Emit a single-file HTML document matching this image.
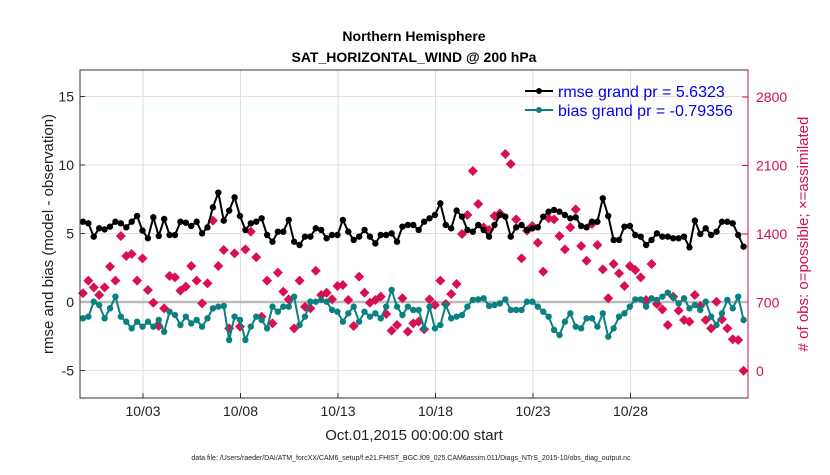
<!DOCTYPE html>
<html><head><meta charset="utf-8"><style>
body{margin:0;background:#fff}
svg{font-family:"Liberation Sans",sans-serif}
</style></head><body>
<svg id="c" width="830" height="470"></svg>
<script>
const rmseZ=[245,250,290,265,268,260,245,250,262,245,228,272,295,232,288,237,285,285,245,248,258,245,280,262,202,158,242,212,172,228,270,250,245,235,285,305,275,275,240,305,315,290,290,265,270,295,285,285,240,275,300,290,270,290,310,285,285,280,305,260,255,255,270,
245,235,225,190,255,265,212,230,270,275,255,270,290,255,225,230,290,262,255,270,265,262,230,215,210,215,225,235,232,258,262,245,245,175,228,300,300,260,258,285,290,315,300,280,290,290,295,295,290,322,242,282,265,285,275,245,245,250,285,320];
const biasZ=[535,530,485,495,535,505,470,530,545,565,545,560,545,560,540,575,515,525,555,530,550,540,560,535,505,500,498,600,530,540,600,560,530,540,565,500,515,500,500,470,555,530,485,485,480,485,510,515,545,520,500,545,515,530,520,535,500,450,500,525,500,510,510,
565,500,565,555,495,535,530,525,500,480,478,475,498,495,490,478,510,510,510,485,485,500,515,530,570,585,545,520,560,565,535,535,560,520,590,565,530,520,500,478,478,500,475,480,470,458,472,490,475,505,495,510,485,530,555,520,480,505,470,540];
const obsZ=[460,422,442,465,442,380,422,288,348,342,422,355,450,488,558,505,408,412,452,440,378,422,490,430,242,378,330,565,340,560,328,275,352,530,422,550,398,455,478,565,422,500,505,392,465,458,478,438,435,480,558,410,458,488,480,470,522,572,555,475,575,550,545,
568,478,495,422,492,462,432,282,225,93,192,262,270,228,220,42,72,238,355,272,258,308,395,235,238,288,328,262,208,318,362,252,315,388,475,372,400,438,378,390,412,480,372,492,508,555,470,512,540,545,465,498,540,565,485,538,565,598,600,692];
// convert read zoom-pixels to data values
const rmse=rmseZ.map(y=>+((162-y/3)/13.7).toFixed(2));
const bias=biasZ.map(y=>+((162-y/3)/13.7).toFixed(2));
const obs=obsZ.map(y=>Math.round((371-(140+y/3))/0.09786));
const leftTicks=[-5,0,5,10,15];
const rightTicks=[0,700,1400,2100,2800];
const xTickDays=[3,8,13,18,23,28];
const xTickLabels=["10/03","10/08","10/13","10/18","10/23","10/28"];

const L=80,R=748,T=70,B=398;
const xs=d=>104+(d-1)*19.5;
const yl=v=>302-13.7*v;
const yr=v=>371-v*0.09786;
const d0=-0.08,d1=33.8;
const tOf=(i,n)=>d0+(d1-d0)*i/(n-1);
const NS="http://www.w3.org/2000/svg";
const svg=document.getElementById('c');
function el(tag,at,txt){const e=document.createElementNS(NS,tag);for(const k in at)e.setAttribute(k,at[k]);if(txt!=null)e.textContent=txt;svg.appendChild(e);return e;}

let e=el('rect',{x:L,y:T,width:R-L,height:B-T,fill:'#fff',stroke:'none'});

xTickDays.forEach((d,i)=>{
 let g=el('line',{x1:xs(d),x2:xs(d),y1:T,y2:B,stroke:'#ddd','stroke-width':1});
 
 let t=el('text',{x:xs(d),y:416,'text-anchor':'middle','font-size':14,fill:'#222'},xTickLabels[i]);
 
 el('line',{x1:xs(d),x2:xs(d),y1:B,y2:B-5,stroke:'#333'});
});
leftTicks.forEach(v=>{
 let g=el('line',{x1:L,x2:R,y1:yl(v),y2:yl(v),stroke:'#f3d6e0','stroke-width':1});
 
 let t=el('text',{x:L-6,y:yl(v)+5,'text-anchor':'end','font-size':14,fill:'#222'},String(v));
 
 el('line',{x1:L,x2:L+5,y1:yl(v),y2:yl(v),stroke:'#333'});
});
rightTicks.forEach(v=>{
 let t=el('text',{x:R+8,y:yr(v)+5,'font-size':14,fill:'#d01050'},String(v));
 
 el('line',{x1:R,x2:R-6,y1:yr(v),y2:yr(v),stroke:'#d01050'});
});
e=el('line',{x1:L,x2:R,y1:yl(0),y2:yl(0),stroke:'#bbb','stroke-width':2.5});


obs.forEach((v,i)=>{const x=xs(tOf(i,obs.length)),y=yr(v);
 let p=el('path',{d:`M${x} ${y-5}L${x+5} ${y}L${x} ${y+5}L${x-5} ${y}Z`,fill:'#d8104f'});
 });

function series(arr,col,name){
 const pts=arr.map((v,i)=>[xs(tOf(i,arr.length)),yl(v)]);
 let p=el('polyline',{points:pts.map(p=>p.join(',')).join(' '),fill:'none',stroke:col,'stroke-width':2});
 
 pts.forEach(q=>{let c=el('circle',{cx:q[0],cy:q[1],r:3.2,fill:col});
  });
}
series(rmse,'#000','rmse');
series(bias,'#0a8080','bias');

e=el('rect',{x:L,y:T,width:R-L,height:B-T,fill:'none',stroke:'#333'});

e=el('line',{x1:R,x2:R,y1:T,y2:B,stroke:'#d01050'});

// legend
[["rmse grand pr = 5.6323",'#000',91,'legend-rmse'],["bias grand pr = -0.79356",'#0a8080',110,'legend-bias']].forEach(a=>{
 let g=el('line',{x1:525,x2:553,y1:a[2],y2:a[2],stroke:a[1],'stroke-width':2});
 
 el('circle',{cx:539,cy:a[2],r:3,fill:a[1]});
 let t=el('text',{x:558,y:a[2]+6,'font-size':16,fill:'#0000ee'},a[0]);
 
});
e=el('text',{x:414,y:41,'text-anchor':'middle','font-size':14,'font-weight':'bold'},'Northern Hemisphere');

e=el('text',{x:414,y:62,'text-anchor':'middle','font-size':14,'font-weight':'bold'},'SAT_HORIZONTAL_WIND @ 200 hPa');

e=el('text',{x:414,y:440,'text-anchor':'middle','font-size':15,fill:'#222'},'Oct.01,2015 00:00:00 start');

e=el('text',{x:0,y:0,'text-anchor':'middle','font-size':15,fill:'#222',transform:'translate(53,234) rotate(-90)'},'rmse and bias (model - observation)');

e=el('text',{x:0,y:0,'text-anchor':'middle','font-size':15,fill:'#d01050',transform:'translate(808,234) rotate(-90)'},'# of obs: o=possible; \u00d7=assimilated');

e=el('text',{x:411,y:460,'text-anchor':'middle','font-size':7,fill:'#222'},'data file: /Users/raeder/DAI/ATM_forcXX/CAM6_setup/f.e21.FHIST_BGC.f09_025.CAM6assim.011/Diags_NTrS_2015-10/obs_diag_output.nc');

</script>
</body></html>
